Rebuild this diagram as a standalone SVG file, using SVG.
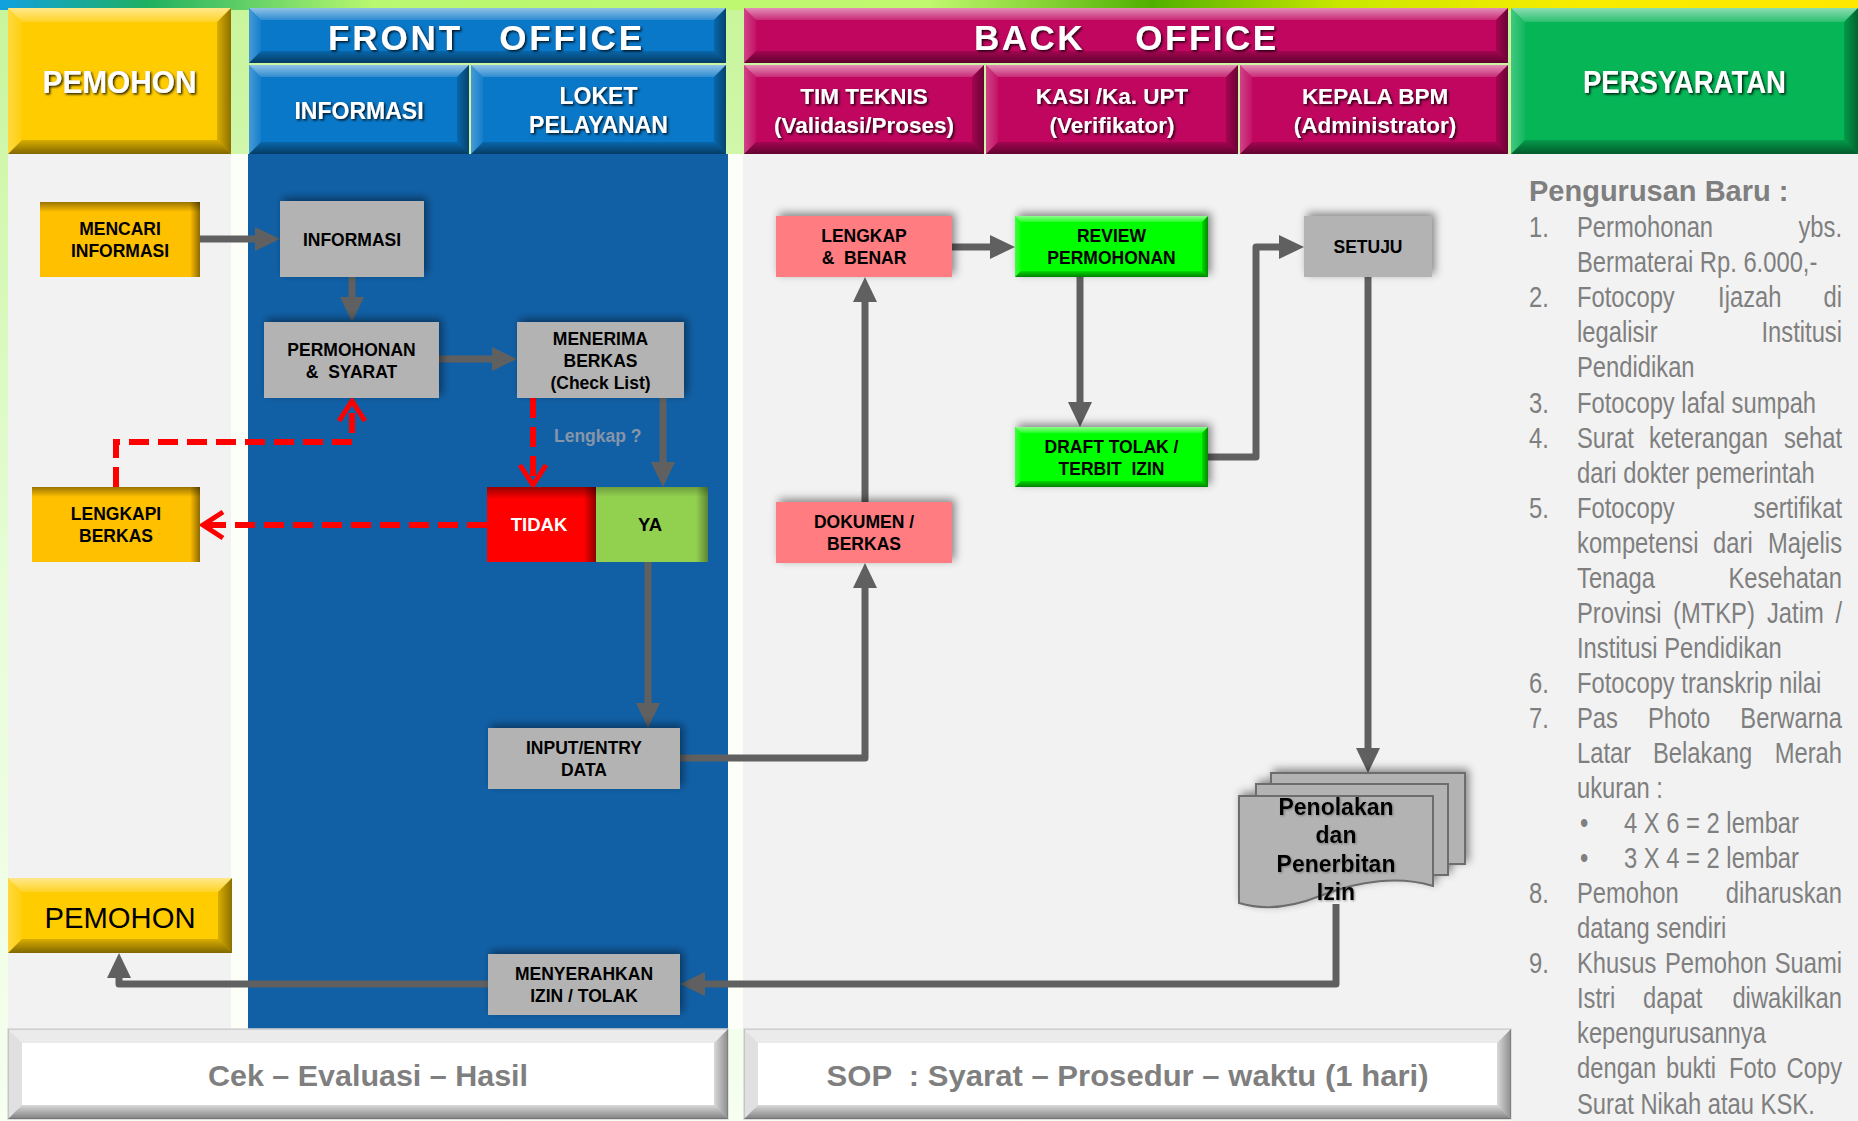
<svg xmlns="http://www.w3.org/2000/svg" width="1858" height="1121" viewBox="0 0 1858 1121">
<defs>
<linearGradient id="gStrip" x1="0" y1="0" x2="1" y2="0">
<stop offset="0" stop-color="#10a0e0"/><stop offset="0.08" stop-color="#20b060"/><stop offset="0.2" stop-color="#b8f870"/><stop offset="0.5" stop-color="#c0f870"/><stop offset="0.62" stop-color="#50b000"/><stop offset="0.72" stop-color="#c8e800"/><stop offset="0.85" stop-color="#f8ec00"/><stop offset="1" stop-color="#ffe800"/>
</linearGradient>
<linearGradient id="gBg" x1="0" y1="0" x2="0" y2="1">
<stop offset="0" stop-color="#c8f59a"/><stop offset="0.5" stop-color="#e6fcd6"/><stop offset="1" stop-color="#f6fff0"/>
</linearGradient>
<linearGradient id="gTop" x1="0" y1="0" x2="0" y2="1"><stop offset="0" stop-color="#fff" stop-opacity="0.55"/><stop offset="1" stop-color="#fff" stop-opacity="0.15"/></linearGradient>
<linearGradient id="gBot" x1="0" y1="0" x2="0" y2="1"><stop offset="0" stop-color="#000" stop-opacity="0.15"/><stop offset="1" stop-color="#000" stop-opacity="0.5"/></linearGradient>
<linearGradient id="gLeft" x1="0" y1="0" x2="1" y2="0"><stop offset="0" stop-color="#fff" stop-opacity="0.25"/><stop offset="1" stop-color="#fff" stop-opacity="0.05"/></linearGradient>
<linearGradient id="gRight" x1="0" y1="0" x2="1" y2="0"><stop offset="0" stop-color="#000" stop-opacity="0.15"/><stop offset="1" stop-color="#000" stop-opacity="0.45"/></linearGradient>
<linearGradient id="gTopDark" x1="0" y1="0" x2="0" y2="1"><stop offset="0" stop-color="#000" stop-opacity="0.4"/><stop offset="1" stop-color="#000" stop-opacity="0"/></linearGradient>
<linearGradient id="gRightDark" x1="0" y1="0" x2="1" y2="0"><stop offset="0" stop-color="#000" stop-opacity="0"/><stop offset="1" stop-color="#000" stop-opacity="0.45"/></linearGradient>
<filter id="sh" x="-20%" y="-30%" width="140%" height="160%">
<feDropShadow dx="3" dy="-3" stdDeviation="4" flood-color="#000" flood-opacity="0.45"/>
</filter>
<filter id="ts" x="-10%" y="-20%" width="120%" height="140%">
<feDropShadow dx="1.5" dy="1.5" stdDeviation="1" flood-color="#000" flood-opacity="0.85"/>
</filter>
<filter id="tg" x="-10%" y="-20%" width="120%" height="140%">
<feDropShadow dx="1" dy="1" stdDeviation="1" flood-color="#555" flood-opacity="0.6"/>
</filter>
<marker id="ah" markerUnits="userSpaceOnUse" markerWidth="25" markerHeight="24" refX="15" refY="12" orient="auto">
<path d="M0,0 L25,12 L0,24 Z" fill="#606060"/>
</marker>
<marker id="ar" markerUnits="userSpaceOnUse" markerWidth="30" markerHeight="32" refX="22" refY="15" orient="auto" overflow="visible">
<path d="M2,2 L22,15 L2,28" fill="none" stroke="#ff0000" stroke-width="5" stroke-dasharray="none"/>
</marker>
</defs>
<style>
.bt{fill:url(#gTop)}
.bb{fill:url(#gBot)}
.bl{fill:url(#gLeft)}
.br{fill:url(#gRight)}
.nt{font-family:"Liberation Sans",Arial,sans-serif;font-weight:bold;font-size:17.5px;text-anchor:middle;fill:#000;white-space:pre}
.ht{font-family:"Liberation Sans",Arial,sans-serif;font-weight:bold;font-size:23px;text-anchor:middle;fill:#fff}
.big{font-family:"Liberation Sans",Arial,sans-serif;font-weight:bold;fill:#fff}
.bot{font-family:"Liberation Sans",Arial,sans-serif;font-weight:bold;font-size:30px;text-anchor:middle;fill:#7f7f7f;white-space:pre}
.req{font-family:"Liberation Sans",Arial,sans-serif;font-size:29px;fill:#7f7f7f}
.end{text-anchor:end}
.gray{fill:#b3b3b3}
.pink{fill:#ff7c80}
.yel{fill:#ffc000}
.con{fill:none;stroke:#606060;stroke-width:7;stroke-linejoin:round;marker-end:url(#ah)}
.red{fill:none;stroke:#ff0000;stroke-width:6;stroke-dasharray:20 9;marker-end:url(#ar)}
</style>

<!-- background -->
<rect x="0" y="0" width="1858" height="1121" fill="url(#gBg)"/>
<rect x="0" y="0" width="1858" height="10" fill="url(#gStrip)"/>
<rect x="231" y="154" width="17" height="875" fill="#fbfff8"/>
<rect x="727" y="154" width="17" height="875" fill="#fbfff8"/>
<rect x="8" y="154" width="223" height="875" fill="#f2f2f2"/>
<rect x="248" y="154" width="480" height="875" fill="#1160a6"/>
<rect x="743" y="154" width="768" height="875" fill="#f2f2f2"/>
<rect x="1511" y="154" width="347" height="967" fill="#f2f2f2"/>

<!-- headers -->
<g id="hdr-pemohon">
<rect x="8" y="8" width="223" height="146" fill="#ffcc00"/>
<polygon class="bt" points="8,8 231,8 217,22 22,22"/>
<polygon class="bb" points="8,154 231,154 217,140 22,140"/>
<polygon class="bl" points="8,8 22,22 22,140 8,154"/>
<polygon class="br" points="231,8 231,154 217,140 217,22"/>
<text class="big" x="119.5" y="93" style="font-size:32px" text-anchor="middle" textLength="154" lengthAdjust="spacingAndGlyphs" filter="url(#ts)">PEMOHON</text>
</g>
<g id="hdr-front-office">
<rect x="249" y="8" width="477" height="55" fill="#0a78c8"/>
<polygon class="bt" points="249,8 726,8 714,20 261,20"/>
<polygon class="bb" points="249,63 726,63 714,51 261,51"/>
<polygon class="bl" points="249,8 261,20 261,51 249,63"/>
<polygon class="br" points="726,8 726,63 714,51 714,20"/>
<text class="big" x="328" y="50" style="font-size:35px" letter-spacing="2.9" word-spacing="23.5" filter="url(#ts)">FRONT OFFICE</text>
</g>
<g id="hdr-informasi">
<rect x="249" y="65" width="220" height="89" fill="#0a78c8"/>
<polygon class="bt" points="249,65 469,65 457,77 261,77"/>
<polygon class="bb" points="249,154 469,154 457,142 261,142"/>
<polygon class="bl" points="249,65 261,77 261,142 249,154"/>
<polygon class="br" points="469,65 469,154 457,142 457,77"/>
<text class="ht" x="359" y="119" filter="url(#ts)">INFORMASI</text>
</g>
<g id="hdr-loket">
<rect x="471" y="65" width="255" height="89" fill="#0a78c8"/>
<polygon class="bt" points="471,65 726,65 714,77 483,77"/>
<polygon class="bb" points="471,154 726,154 714,142 483,142"/>
<polygon class="bl" points="471,65 483,77 483,142 471,154"/>
<polygon class="br" points="726,65 726,154 714,142 714,77"/>
<text class="ht" x="598.5" y="104" filter="url(#ts)">LOKET</text>
<text class="ht" x="598.5" y="133" filter="url(#ts)">PELAYANAN</text>
</g>
<g id="hdr-back-office">
<rect x="744" y="8" width="764" height="55" fill="#c0065f"/>
<polygon class="bt" points="744,8 1508,8 1496,20 756,20"/>
<polygon class="bb" points="744,63 1508,63 1496,51 756,51"/>
<polygon class="bl" points="744,8 756,20 756,51 744,63"/>
<polygon class="br" points="1508,8 1508,63 1496,51 1496,20"/>
<text class="big" x="974" y="50" style="font-size:35px" letter-spacing="2.5" word-spacing="38" filter="url(#ts)">BACK OFFICE</text>
</g>
<g id="hdr-tim-teknis">
<rect x="744" y="65" width="240" height="89" fill="#c0065f"/>
<polygon class="bt" points="744,65 984,65 972,77 756,77"/>
<polygon class="bb" points="744,154 984,154 972,142 756,142"/>
<polygon class="bl" points="744,65 756,77 756,142 744,154"/>
<polygon class="br" points="984,65 984,154 972,142 972,77"/>
<text class="ht" x="864" y="104" style="font-size:22.5px" filter="url(#ts)">TIM TEKNIS</text>
<text class="ht" x="864" y="133" style="font-size:22.5px" filter="url(#ts)">(Validasi/Proses)</text>
</g>
<g id="hdr-kasi">
<rect x="986" y="65" width="252" height="89" fill="#c0065f"/>
<polygon class="bt" points="986,65 1238,65 1226,77 998,77"/>
<polygon class="bb" points="986,154 1238,154 1226,142 998,142"/>
<polygon class="bl" points="986,65 998,77 998,142 986,154"/>
<polygon class="br" points="1238,65 1238,154 1226,142 1226,77"/>
<text class="ht" x="1112" y="104" style="font-size:22.5px" filter="url(#ts)">KASI /Ka. UPT</text>
<text class="ht" x="1112" y="133" style="font-size:22.5px" filter="url(#ts)">(Verifikator)</text>
</g>
<g id="hdr-kepala">
<rect x="1240" y="65" width="268" height="89" fill="#c0065f"/>
<polygon class="bt" points="1240,65 1508,65 1496,77 1252,77"/>
<polygon class="bb" points="1240,154 1508,154 1496,142 1252,142"/>
<polygon class="bl" points="1240,65 1252,77 1252,142 1240,154"/>
<polygon class="br" points="1508,65 1508,154 1496,142 1496,77"/>
<text class="ht" x="1375" y="104" style="font-size:22.5px" filter="url(#ts)">KEPALA BPM</text>
<text class="ht" x="1375" y="133" style="font-size:22.5px" filter="url(#ts)">(Administrator)</text>
</g>
<g id="hdr-persyaratan">
<rect x="1511" y="8" width="347" height="146" fill="#05b556"/>
<polygon class="bt" points="1511,8 1858,8 1844,22 1525,22"/>
<polygon class="bb" points="1511,154 1858,154 1844,140 1525,140"/>
<polygon class="bl" points="1511,8 1525,22 1525,140 1511,154"/>
<polygon class="br" points="1858,8 1858,154 1844,140 1844,22"/>
<text class="big" x="1684.5" y="93" style="font-size:32px" text-anchor="middle" textLength="203" lengthAdjust="spacingAndGlyphs" filter="url(#ts)">PERSYARATAN</text>
</g>

<!-- bottom bars -->
<g id="footer-cek">
<rect x="8" y="1029" width="720" height="90" fill="#ffffff" stroke="#d8d8d8" stroke-width="1.5"/>
<polygon class="bb" points="8,1119 728,1119 714,1105 22,1105"/>
<polygon class="br" points="728,1029 728,1119 714,1105 714,1043"/>
<polygon fill="#000" fill-opacity="0.08" points="8,1029 728,1029 714,1043 22,1043"/>
<polygon fill="#000" fill-opacity="0.12" points="8,1029 22,1043 22,1105 8,1119"/>
<text class="bot" x="368" y="1085.5" textLength="320" lengthAdjust="spacingAndGlyphs">Cek – Evaluasi – Hasil</text>
</g>
<g id="footer-sop">
<rect x="744" y="1029" width="767" height="90" fill="#ffffff" stroke="#d8d8d8" stroke-width="1.5"/>
<polygon class="bb" points="744,1119 1511,1119 1497,1105 758,1105"/>
<polygon class="br" points="1511,1029 1511,1119 1497,1105 1497,1043"/>
<polygon fill="#000" fill-opacity="0.08" points="744,1029 1511,1029 1497,1043 758,1043"/>
<polygon fill="#000" fill-opacity="0.12" points="744,1029 758,1043 758,1105 744,1119"/>
<text class="bot" x="1127.5" y="1085.5" textLength="602" lengthAdjust="spacingAndGlyphs">SOP  : Syarat – Prosedur – waktu (1 hari)</text>
</g>

<!-- connectors -->
<g id="connectors">
<path class="con" d="M200,239 H270"/>
<path class="con" d="M352,277 V312"/>
<path class="con" d="M439,359 H507"/>
<path class="con" d="M663,398 V477"/>
<path class="con" d="M648,562 V718"/>
<path class="con" d="M680,758 H865 V573"/>
<path class="con" d="M865,502 V287"/>
<path class="con" d="M952,247 H1005"/>
<path class="con" d="M1080,277 V417"/>
<path class="con" d="M1208,457 H1256 V247 H1294"/>
<path class="con" d="M1368,277 V763"/>
<path class="con" d="M1336,904 V984 H690"/>
<path class="con" d="M488,984 H119 V963"/>
<path class="red" d="M533,398 V485"/>
<path class="red" d="M487,525 H203"/>
<path class="red" d="M116,487 V442 H352 V401"/>
<text x="554" y="442" font-family="Liberation Sans, Arial, sans-serif" font-weight="bold" font-size="17.5" fill="#8795a8">Lengkap ?</text>
</g>

<!-- nodes -->
<g id="n-mencari">
<rect class="yel" x="40" y="202" width="160" height="75"/>
<rect x="40" y="202" width="160" height="10" fill="url(#gTopDark)"/>
<rect x="190" y="202" width="10" height="75" fill="url(#gRightDark)"/>
<text class="nt" x="120" y="235">MENCARI</text>
<text class="nt" x="120" y="257">INFORMASI</text>
</g>
<g id="n-informasi">
<rect class="gray" x="280" y="201" width="144" height="76" filter="url(#sh)"/>
<text class="nt" x="352" y="246">INFORMASI</text>
</g>
<g id="n-permohonan">
<rect class="gray" x="264" y="322" width="175" height="76" filter="url(#sh)"/>
<text class="nt" x="351.5" y="355.5">PERMOHONAN</text>
<text class="nt" x="351.5" y="377.5">&amp;  SYARAT</text>
</g>
<g id="n-menerima">
<rect class="gray" x="517" y="322" width="167" height="76" filter="url(#sh)"/>
<text class="nt" x="600.5" y="344.5">MENERIMA</text>
<text class="nt" x="600.5" y="366.5">BERKAS</text>
<text class="nt" x="600.5" y="388.5">(Check List)</text>
</g>
<g id="n-tidak">
<rect x="487" y="487" width="109" height="75" fill="#ff0000"/>
<rect x="487" y="487" width="109" height="12" fill="url(#gTopDark)"/>
<rect x="584" y="487" width="12" height="75" fill="url(#gRightDark)"/>
<text class="nt" x="539" y="531" style="fill:#fff;font-size:18.5px">TIDAK</text>
</g>
<g id="n-ya">
<rect x="596" y="487" width="112" height="75" fill="#92d050"/>
<rect x="596" y="487" width="112" height="10" fill="url(#gTopDark)" opacity="0.6"/>
<rect x="696" y="487" width="12" height="75" fill="url(#gRightDark)" opacity="0.8"/>
<text class="nt" x="650" y="531" style="font-size:18.5px">YA</text>
</g>
<g id="n-lengkapi">
<rect class="yel" x="32" y="487" width="168" height="75"/>
<rect x="32" y="487" width="168" height="10" fill="url(#gTopDark)"/>
<rect x="190" y="487" width="10" height="75" fill="url(#gRightDark)"/>
<text class="nt" x="116" y="520">LENGKAPI</text>
<text class="nt" x="116" y="542">BERKAS</text>
</g>
<g id="n-input">
<rect class="gray" x="488" y="728" width="192" height="61" filter="url(#sh)"/>
<text class="nt" x="584" y="754">INPUT/ENTRY</text>
<text class="nt" x="584" y="776">DATA</text>
</g>
<g id="n-menyerahkan">
<rect class="gray" x="488" y="954" width="192" height="61" filter="url(#sh)"/>
<text class="nt" x="584" y="980">MENYERAHKAN</text>
<text class="nt" x="584" y="1002">IZIN / TOLAK</text>
</g>
<g id="n-pemohon-bottom">
<rect x="8" y="878" width="224" height="75" fill="#ffcc00"/>
<polygon class="bt" points="8,878 232,878 218,892 22,892"/>
<polygon class="bb" points="8,953 232,953 218,939 22,939"/>
<polygon class="bl" points="8,878 22,892 22,939 8,953"/>
<polygon class="br" points="232,878 232,953 218,939 218,892"/>
<text x="120" y="928" font-family="Liberation Sans, Arial, sans-serif" font-size="30" text-anchor="middle" textLength="151" lengthAdjust="spacingAndGlyphs" fill="#000">PEMOHON</text>
</g>
<g id="n-lengkap-benar">
<rect class="pink" x="776" y="216" width="176" height="61" filter="url(#sh)"/>
<text class="nt" x="864" y="242">LENGKAP</text>
<text class="nt" x="864" y="264">&amp;  BENAR</text>
</g>
<g id="n-dokumen">
<rect class="pink" x="776" y="502" width="176" height="61" filter="url(#sh)"/>
<text class="nt" x="864" y="528">DOKUMEN /</text>
<text class="nt" x="864" y="550">BERKAS</text>
</g>
<g id="n-review">
<g filter="url(#sh)">
<rect x="1015" y="216" width="193" height="61" fill="#00ff00"/>
<polygon class="bt" points="1015,216 1208,216 1202,222 1021,222"/>
<polygon class="bb" points="1015,277 1208,277 1202,271 1021,271"/>
<polygon class="bl" points="1015,216 1021,222 1021,271 1015,277"/>
<polygon class="br" points="1208,216 1208,277 1202,271 1202,222"/>
</g>
<text class="nt" x="1111.5" y="242">REVIEW</text>
<text class="nt" x="1111.5" y="264">PERMOHONAN</text>
</g>
<g id="n-draft">
<g filter="url(#sh)">
<rect x="1015" y="427" width="193" height="60" fill="#00ff00"/>
<polygon class="bt" points="1015,427 1208,427 1202,433 1021,433"/>
<polygon class="bb" points="1015,487 1208,487 1202,481 1021,481"/>
<polygon class="bl" points="1015,427 1021,433 1021,481 1015,487"/>
<polygon class="br" points="1208,427 1208,487 1202,481 1202,433"/>
</g>
<text class="nt" x="1111.5" y="452.5">DRAFT TOLAK /</text>
<text class="nt" x="1111.5" y="474.5">TERBIT  IZIN</text>
</g>
<g id="n-setuju">
<rect class="gray" x="1304" y="216" width="128" height="61" filter="url(#sh)"/>
<text class="nt" x="1368" y="253">SETUJU</text>
</g>
<g id="n-penolakan">
<g filter="url(#sh)">
<rect x="1271" y="773" width="194" height="91" fill="#b3b3b3" stroke="#6d6d6d" stroke-width="2"/>
<rect x="1256" y="784" width="192" height="91" fill="#b3b3b3" stroke="#6d6d6d" stroke-width="2"/>
<path d="M1239,796 H1433 V886 C1400,876 1360,880 1320,896 C1290,908 1262,910 1239,903 Z" fill="#b3b3b3" stroke="#6d6d6d" stroke-width="2"/>
</g>
<g filter="url(#tg)">
<text class="nt" x="1336" y="815" style="font-size:23px">Penolakan</text>
<text class="nt" x="1336" y="843" style="font-size:23px">dan</text>
<text class="nt" x="1336" y="872" style="font-size:23px">Penerbitan</text>
<text class="nt" x="1336" y="900" style="font-size:23px">Izin</text>
</g>
</g>

<!-- persyaratan text -->
<g id="persyaratan-list">
<text x="1529" y="201" font-family="Liberation Sans, Arial, sans-serif" font-weight="bold" font-size="29" fill="#7f7f7f">Pengurusan Baru :</text>
<g class="req" transform="matrix(0.82 0 0 1 1577 0)">
<text x="-58.5" y="237.3">1.</text><text x="0" y="237.3">Permohonan</text><text class="end" x="323.2" y="237.3">ybs.</text>
<text x="0" y="272.4">Bermaterai Rp. 6.000,-</text>
<text x="-58.5" y="307.4">2.</text><text x="0" y="307.4">Fotocopy</text><text x="172" y="307.4">Ijazah</text><text class="end" x="323.2" y="307.4">di</text>
<text x="0" y="342.5">legalisir</text><text class="end" x="323.2" y="342.5">Institusi</text>
<text x="0" y="377.5">Pendidikan</text>
<text x="-58.5" y="412.6">3.</text><text x="0" y="412.6">Fotocopy lafal sumpah</text>
<text x="-58.5" y="447.6">4.</text><text x="0" y="447.6">Surat</text><text x="87.8" y="447.6">keterangan</text><text class="end" x="323.2" y="447.6">sehat</text>
<text x="0" y="482.7">dari dokter pemerintah</text>
<text x="-58.5" y="517.7">5.</text><text x="0" y="517.7">Fotocopy</text><text class="end" x="323.2" y="517.7">sertifikat</text>
<text x="0" y="552.8">kompetensi</text><text x="165.9" y="552.8">dari</text><text class="end" x="323.2" y="552.8">Majelis</text>
<text x="0" y="587.8">Tenaga</text><text class="end" x="323.2" y="587.8">Kesehatan</text>
<text x="0" y="622.9">Provinsi</text><text x="117.1" y="622.9">(MTKP)</text><text x="231.7" y="622.9">Jatim</text><text class="end" x="323.2" y="622.9">/</text>
<text x="0" y="657.9">Institusi Pendidikan</text>
<text x="-58.5" y="693">6.</text><text x="0" y="693">Fotocopy transkrip nilai</text>
<text x="-58.5" y="728">7.</text><text x="0" y="728">Pas</text><text x="86.6" y="728">Photo</text><text class="end" x="323.2" y="728">Berwarna</text>
<text x="0" y="763.1">Latar</text><text x="92.7" y="763.1">Belakang</text><text class="end" x="323.2" y="763.1">Merah</text>
<text x="0" y="798.1">ukuran :</text>
<text x="3.7" y="833.2">•</text><text x="57.3" y="833.2">4 X 6 = 2 lembar</text>
<text x="3.7" y="868.2">•</text><text x="57.3" y="868.2">3 X 4 = 2 lembar</text>
<text x="-58.5" y="903.3">8.</text><text x="0" y="903.3">Pemohon</text><text class="end" x="323.2" y="903.3">diharuskan</text>
<text x="0" y="938.3">datang sendiri</text>
<text x="-58.5" y="973.4">9.</text><text x="0" y="973.4">Khusus</text><text x="107.3" y="973.4">Pemohon</text><text class="end" x="323.2" y="973.4">Suami</text>
<text x="0" y="1008.4">Istri</text><text x="80.5" y="1008.4">dapat</text><text class="end" x="323.2" y="1008.4">diwakilkan</text>
<text x="0" y="1043.5">kepengurusannya</text>
<text x="0" y="1078.5">dengan</text><text x="108.5" y="1078.5">bukti</text><text x="185.4" y="1078.5">Foto</text><text class="end" x="323.2" y="1078.5">Copy</text>
<text x="0" y="1113.6">Surat Nikah atau KSK.</text>
</g>
</g>
</svg>
